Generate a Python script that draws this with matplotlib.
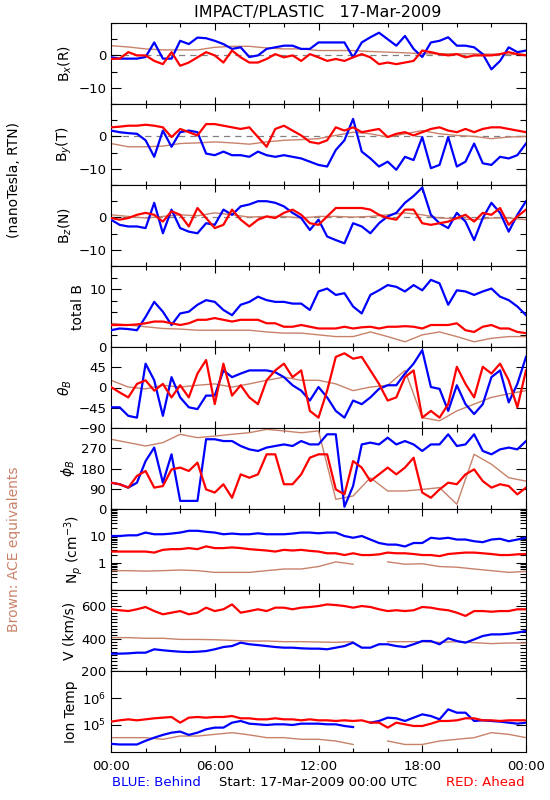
import numpy as np
import matplotlib
matplotlib.use("Agg")
import matplotlib.pyplot as plt
from matplotlib.ticker import FixedLocator, MultipleLocator, LogLocator, NullFormatter, NullLocator, FixedFormatter

BLUE = '#0000ff'
RED = '#ff0000'
BROWN = '#c8826a'

# sample times (hours after 17-Mar-2009 00:00 UTC)
t_half = np.arange(0, 24.5, 0.5)
t_hour = np.arange(0, 25, 1)
nan = np.nan

# Bx (R), nT
bx_blue = [-0.6, -1, -1, -1, -0.5, 4, -1, -1, 4.5, 3.5, 5.5, 5.3, 4.5, 3.5, 2, 2.5, -0.5, 0, 2, 2.5,
           3, 3, 2, 2, 4, 4, 4, 4, -0.6, 4, 5.6, 7, 5, 3, 6, 2, -0.5, 4, 4.5, 5.6,
           3, 3, 2.5, 0.4, -4.3, -1.7, 2.5, 1, 1.5]
bx_red = [-1.1, -1, 1, 0, 0, -1.7, -2.7, 1, -3.2, -2.2, -0.6, 1, 0, -2.2, 1.5, -0.6, -2.2, -2.2, -1.1, 0.4,
          -0.6, 0, -1.7, 0.4, -0.6, -1.7, -1.1, -1.7, -0.6, 0.4, -0.6, -2.7, -2.2, -2.7, -2.2, -1.7, 1.5, 1, 0.4, 0,
          0.4, -0.6, 0, 0, 0, 0.4, 1, 0.4, 0]
bx_ace = [3, 2.6, 2, 1.7, 1.7, 1.7, 2.5, 2.8, 2.8, 2.3, 2, 2, 1.5, 1.5, 1.5, 1.2, 1, 0.8, 0.5, 0.5,
          0.5, 0.5, 0.4, 0.3, 0.3]

# By (T), nT
by_blue = [1.8, 1.3, 1, 0.8, -1.2, -6.3, 1.8, -3.2, 1.3, 1.8, 1.3, -5.3, -5.8, -4.7, -5.8, -5.8, -6.3, -4.7, -5.8, -6.3,
           -5.8, -6.3, -6.8, -7.8, -8.8, -9.3, -4.2, -1.2, 5.4, -4.7, -6.8, -9.3, -7.8, -10.3, -6.3, -7.3, -0.2, -9.8, -8.8, -0.2,
           -9.3, -7.8, -2.2, -8.3, -8.8, -6.3, -6.8, -5.8, -2.2]
by_red = [2.8, 3, 3.3, 3.3, 3.6, 3.3, 2.8, -0.2, 2.3, 1.3, 0.3, 3.8, 3.8, 3.3, 2.8, 2.3, 2.8, -0.2, -3.2, 2.3,
          3.3, 1.8, 0.3, -1.7, -2.2, -1.2, 2.8, 1.8, 2.8, 1.3, 1.8, 2.3, -0.2, 0.8, 1.3, 0.3, 1.3, 2.3, 2.8, 1.8,
          1.3, 2.3, 1.3, 2.3, 2.8, 2.8, 2.3, 1.8, 1.3]
by_ace = [-2.2, -3.2, -3.2, -3, -2.2, -2, -1.7, -2, -2.4, -1.7, -1.2, -1, -0.7, 0.3, 1.3, 0.8, -0.2, 0.8, 1.8, 0.8,
          0.3, 0, -0.7, -0.2, 0]

# Bz (N), nT
bz_blue = [-0.7, -2.3, -2.8, -2.8, -3.3, 4.5, -4.9, 2.4, -3.3, -4.4, -4.9, -1.8, -2.3, 2.4, 0.8, 3.4, 4, 5, 5, 4.5,
           3.4, 1.4, -0.2, -3.9, -0.7, -5.9, -7, -8, -1.8, -2.8, -4.9, -1.8, 0.3, 1.4, 4.5, 6.6, 9.2, 0.8, -1.8, -3.3,
           1.4, -1.3, -7, -0.2, 4.5, 1.4, -4.4, 0.8, 5]
bz_red = [-0.2, -0.7, -0.2, 0.8, 1.4, 0.8, -1.3, 1.9, 0.8, -2.8, 2.9, -0.2, -3.3, -2.3, 2.4, -0.7, -2.8, -0.7, 0.3, -0.2,
          1.4, 2.4, 0.8, -1.8, -2.3, 0.3, 2.9, 2.9, 2.9, 2.9, 2.4, 0.8, -0.2, -0.7, 2.4, 2.4, -1.8, -2.3, -1.8, -1.3,
          -0.2, 0.8, -1.3, 1.4, 0.8, 2.9, -2.3, 0.3, 2.4]
bz_ace = [0.8, 0.3, -0.2, 0.3, 0.8, 0.5, 1.4, 0.8, 0.1, 0.3, 0.3, -0.2, 0.3, 0.3, 0.1, 0.3, 0.8, 1.4, 0.8, -0.2,
          -0.4, -0.7, -0.2, -0.2, -0.7]

# total B, nT
bt_blue = [2.9, 3.2, 3.1, 2.9, 5.2, 7.8, 6.1, 3.8, 5.8, 6.1, 7.3, 8.1, 7.8, 6.4, 5.5, 7.3, 7.8, 8.7, 8.1, 7.8,
           7.8, 7.5, 7.5, 6.4, 9.6, 10.1, 9.0, 9.3, 7.0, 5.8, 9.0, 9.8, 10.7, 10.4, 9.6, 10.7, 9.8, 11.6, 11.0, 7.3,
           9.8, 9.6, 9.0, 9.6, 10.1, 8.7, 8.1, 7.0, 5.5]
bt_red = [3.8, 3.8, 3.8, 3.9, 4.1, 4.4, 4.4, 4.1, 3.8, 4.1, 4.7, 4.7, 5.0, 4.7, 4.4, 4.7, 4.7, 4.7, 4.1, 4.1,
          3.5, 3.5, 3.8, 3.5, 3.2, 3.2, 3.2, 3.5, 3.2, 3.4, 3.5, 3.2, 3.5, 3.5, 3.6, 3.5, 3.2, 3.8, 3.8, 3.8,
          4.1, 2.9, 2.6, 3.5, 3.8, 3.2, 3.2, 2.6, 2.4]
bt_ace = [4.1, 3.8, 3.5, 3.2, 3.1, 2.9, 2.9, 2.9, 2.9, 2.6, 2.4, 2.4, 2.1, 1.8, 1.8, 2.6, 1.8, 0.9, 2.1, 2.6,
          1.8, 0.9, 1.5, 1.8, 1.8]

# theta_B, deg
th_blue = [-44, -44, -63, -67, 53, 16, -63, 23, -22, -44, -48, -18, -18, 38, 23, 31, 38, 38, 38, 34,
           23, 5, -7, -29, 1, -22, -52, -67, -29, -37, -22, -3, 5, 5, 31, 53, 83, 1, -3, -52,
           5, -37, -59, -37, 23, 38, -33, 8, 68]
th_red = [1, -11, -22, 8, 16, -7, 8, -22, 5, -22, 31, 61, -37, 53, -18, 5, -22, -37, 16, 38,
          53, 23, 38, -52, -67, -7, 68, 76, 64, 68, 38, 8, -29, -22, 23, 38, -67, -52, -67, -37,
          46, 8, -22, 46, 31, 53, 16, -44, 38]
th_ace = [16, 1, -3, 5, 1, 5, 8, 1, 8, 16, 23, 16, 16, 8, -7, 1, 5, 38, -67, -74,
          -52, -37, -22, -14, -7]

# phi_B, deg
ph_blue = [117, 110, 95, 117, 213, 273, 117, 243, 36, 36, 36, 310, 310, 302, 302, 280, 265, 258, 273, 280,
           287, 280, 302, 287, 287, 332, 332, 10, 102, 287, 295, 287, 317, 287, 302, 287, 258, 287, 287, 332,
           280, 287, 332, 258, 243, 265, 273, 265, 302]
ph_red = [117, 110, 95, 147, 169, 95, 102, 176, 184, 169, 206, 87, 73, 110, 50, 154, 139, 154, 243, 243,
          110, 110, 154, 228, 243, 243, 87, 65, 213, 184, 124, 154, 184, 154, 184, 228, 73, 50, 87, 117,
          110, 154, 176, 124, 95, 110, 102, 65, 95]
ph_ace = [310, 295, 280, 295, 332, 317, 324, 332, 339, 354, 347, 339, 347, 43, 58, 139, 80, 80, 87, 95,
          21, 243, 199, 139, 124]

# proton density, cm^-3
np_blue = [10, 10, 10.6, 10.6, 13.4, 11.6, 11.6, 12.3, 13.4, 15.6, 15.6, 14.3, 13.4, 11.6, 12.3, 11.6, 11.6, 12.6, 11.6, 11.6,
           11.6, 12.3, 13.4, 13.4, 12.6, 13.4, 13.4, 10, 8.6, 10, 7.4, 5.5, 4.8, 4.8, 4.1, 5.5, 5.5, 8.6, 7.9, 8.6,
           7.4, 7.4, 6.4, 5.9, 7.4, 7.9, 6.4, 7.4, 8.6]
np_red = [2.65, 2.65, 2.65, 2.65, 2.65, 2.43, 3.07, 3.26, 3.26, 3.56, 3.26, 4.12, 3.56, 3.56, 3.78, 3.56, 3.26, 3.07, 2.9, 2.65,
          3.07, 2.9, 3.07, 2.81, 2.65, 2.29, 2.29, 1.97, 2.29, 1.97, 1.97, 2.09, 2.43, 2.29, 2.29, 2.15, 1.97, 1.97, 1.8, 2.15,
          2.29, 2.43, 2.43, 2.29, 2.15, 1.97, 1.97, 2.09, 2.15]
np_ace = [0.52, 0.52, 0.5, 0.52, 0.55, 0.52, 0.45, 0.45, 0.45, 0.52, 0.6, 0.6, 0.74, 1.1, 0.9, nan, 1.1, 0.9, 0.94, 0.74,
          0.7, 0.6, 0.52, 0.45, 0.49]

# bulk speed, km/s
v_blue = [307, 307, 309, 313, 313, 334, 328, 323, 319, 317, 319, 323, 334, 348, 354, 375, 365, 360, 354, 348,
          344, 344, 340, 338, 338, 334, 344, 354, 375, 344, 344, 365, 365, 354, 348, 365, 385, 385, 365, 402,
          385, 375, 395, 416, 426, 426, 430, 437, 447]
v_red = [581, 575, 570, 581, 595, 570, 550, 560, 570, 550, 560, 591, 570, 581, 611, 560, 570, 581, 570, 591,
         591, 581, 591, 595, 601, 611, 607, 601, 591, 601, 595, 581, 570, 575, 570, 575, 595, 591, 581, 575,
         560, 540, 570, 570, 566, 570, 570, 581, 581]
v_ace = [406, 406, 402, 402, 395, 395, 393, 389, 385, 385, 381, 381, 379, 377, 381, nan, 381, 381, 381, 377,
         381, 375, 369, 373, 373]

# ion temperature, K
t_blue = [2.0e4, 1.9e4, 1.9e4, 1.9e4, 2.6e4, 3.4e4, 4.3e4, 5.2e4, 5.7e4, 4.3e4, 5.2e4, 6.9e4, 8.0e4, 8.0e4, 1.22e5,
          1.41e5, 1.12e5, 1.06e5, 1.0e5, 1.06e5, 1.06e5, 1.0e5, 1.12e5, 1.12e5, 1.12e5, 1.06e5, 1.06e5, 9.2e4, 8.4e4, nan,
          1.22e5, 1.41e5, 1.87e5, 1.77e5, 1.41e5, 1.87e5, 2.48e5, 2.15e5, 1.62e5, 3.8e5, 2.86e5, 2.86e5, 1.41e5, 1.49e5,
          1.41e5, 1.33e5, 1.22e5, 1.12e5, 1.22e5]
t_red = [1.33e5, 1.49e5, 1.62e5, 1.49e5, 1.62e5, 1.77e5, 1.87e5, 1.98e5, 1.22e5, 1.87e5, 1.98e5, 1.87e5, 1.98e5, 1.98e5,
         2.15e5, 1.77e5, 1.77e5, 1.62e5, 1.62e5, 1.77e5, 1.62e5, 1.62e5, 1.49e5, 1.62e5, 1.49e5, 1.49e5, 1.41e5, 1.49e5,
         1.41e5, 1.49e5, 1.22e5, 1.22e5, 8.0e4, 1.22e5, 1.06e5, 9.2e4, 9.2e4, 1.12e5, 1.41e5, 1.41e5, 1.49e5, 1.77e5,
         1.77e5, 1.49e5, 1.49e5, 1.41e5, 1.49e5, 1.49e5, 1.49e5]
t_ace = [3.4e4, 3.4e4, 3.4e4, 2.95e4, 3.9e4, 3.9e4, 4.5e4, 5.2e4, 4.3e4, 3.4e4, 3.4e4, 2.95e4, 2.95e4, 2.55e4, 1.9e4,
         nan, 2.55e4, 1.9e4, 1.9e4, 2.55e4, 2.95e4, 3.4e4, 5.2e4, 4.5e4, 3.4e4]

ylabels = ['B$_x$(R)', 'B$_y$(T)', 'B$_z$(N)', 'total B', r'$\theta_B$', r'$\phi_B$',
           'N$_p$ (cm$^{-3}$)', 'V (km/s)', 'Ion Temp']
series = [(bx_blue, bx_red, bx_ace), (by_blue, by_red, by_ace), (bz_blue, bz_red, bz_ace),
          (bt_blue, bt_red, bt_ace), (th_blue, th_red, th_ace), (ph_blue, ph_red, ph_ace),
          (np_blue, np_red, np_ace), (v_blue, v_red, v_ace), (t_blue, t_red, t_ace)]

plt.rcParams['font.family'] = 'DejaVu Sans'
fig = plt.figure(figsize=(5.5, 8), dpi=100)

W, H = 550.0, 800.0
left, right, top, ph = 111, 526, 23, 81

axes = []
for i in range(9):
    y0 = top + ph * (i + 1)
    ax = fig.add_axes([left / W, 1 - y0 / H, (right - left) / W, ph / H])
    axes.append(ax)
    blue, red, ace = series[i]
    ax.plot(t_hour, ace, color=BROWN, lw=1.0, zorder=2)
    ax.plot(t_half, blue, color=BLUE, lw=1.6, zorder=3)
    ax.plot(t_half, red, color=RED, lw=1.6, zorder=4)

    ax.set_xlim(0, 24)
    ax.xaxis.set_major_locator(FixedLocator([0, 6, 12, 18, 24]))
    ax.xaxis.set_minor_locator(MultipleLocator(2))
    ax.tick_params(which='both', direction='in', top=True, right=True, labelsize=9.5, width=0.8)
    ax.tick_params(axis='x', which='major', length=5)
    ax.tick_params(axis='x', which='minor', length=3)
    ax.tick_params(axis='y', which='major', length=7)
    ax.tick_params(axis='y', which='minor', length=4)
    for s in ax.spines.values():
        s.set_linewidth(0.8)
    if i < 8:
        ax.tick_params(labelbottom=False)
    ax.set_ylabel(ylabels[i], fontsize=10, labelpad=3)

# B components
for ax in axes[:3]:
    ax.axhline(0, color='gray', lw=0.9, dashes=(5, 4), zorder=1)
    ax.set_ylim(-15, 10)
    ax.yaxis.set_major_locator(FixedLocator([-10, 0]))
    ax.yaxis.set_minor_locator(MultipleLocator(5))

axes[3].set_ylim(0, 14)
axes[3].yaxis.set_major_locator(FixedLocator([0, 10]))
axes[3].yaxis.set_minor_locator(MultipleLocator(2))

axes[4].set_ylim(-90, 90)
axes[4].yaxis.set_major_locator(FixedLocator([-90, -45, 0, 45]))
axes[4].yaxis.set_minor_locator(NullLocator())

axes[5].set_ylim(0, 360)
axes[5].yaxis.set_major_locator(FixedLocator([0, 90, 180, 270]))
axes[5].yaxis.set_minor_locator(NullLocator())

axes[6].set_yscale('log')
axes[6].set_ylim(0.1, 100)
axes[6].yaxis.set_major_locator(FixedLocator([1, 10]))
axes[6].yaxis.set_major_formatter(FixedFormatter(['1', '10']))
axes[6].yaxis.set_minor_locator(LogLocator(base=10, subs=np.arange(1, 10)))
axes[6].yaxis.set_minor_formatter(NullFormatter())

axes[7].set_ylim(200, 700)
axes[7].yaxis.set_major_locator(FixedLocator([200, 400, 600]))
axes[7].yaxis.set_minor_locator(MultipleLocator(20))

axes[8].set_yscale('log')
axes[8].set_ylim(1e4, 1e7)
axes[8].yaxis.set_major_locator(FixedLocator([1e5, 1e6]))
axes[8].yaxis.set_major_formatter(FixedFormatter(['10$^5$', '10$^6$']))
axes[8].yaxis.set_minor_locator(NullLocator())

axes[8].set_xticklabels(['00:00', '06:00', '12:00', '18:00', '00:00'])
axes[8].tick_params(axis='x', pad=6)

fig.text(318 / W, 1 - 13 / H, 'IMPACT/PLASTIC   17-Mar-2009', ha='center', va='center', fontsize=11.5)
fig.text(14 / W, 1 - 180 / H, '(nanoTesla, RTN)', rotation=90, ha='center', va='center', fontsize=10)
fig.text(14 / W, 1 - 549 / H, 'Brown: ACE equivalents', rotation=90, ha='center', va='center',
         fontsize=10, color=BROWN)
fig.text(112 / W, 1 - 782 / H, 'BLUE: Behind', ha='left', va='center', fontsize=9.5, color=BLUE)
fig.text(318 / W, 1 - 782 / H, 'Start: 17-Mar-2009 00:00 UTC', ha='center', va='center', fontsize=9.5)
fig.text(525 / W, 1 - 782 / H, 'RED: Ahead', ha='right', va='center', fontsize=9.5, color=RED)

fig.savefig('out.png', dpi=100)
